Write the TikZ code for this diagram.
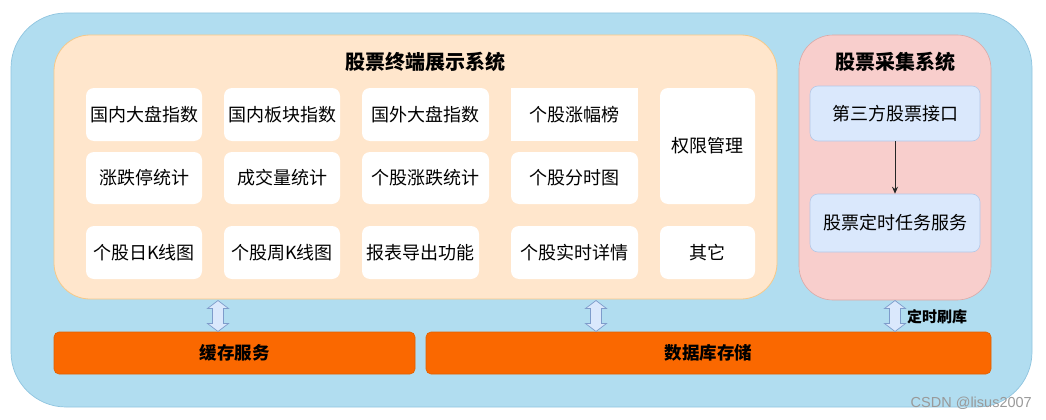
\documentclass[tikz,border=0pt]{standalone}
\usepackage{fontspec}
\setmainfont{Noto Sans CJK SC}
\newfontfamily\wmfont{Liberation Sans}
\usetikzlibrary{arrows.meta}
\definecolor{outerblue}{HTML}{B1DDF0}
\definecolor{outerline}{HTML}{8FC4DF}
\definecolor{panelorange}{HTML}{FFE6CC}
\definecolor{panelorangeline}{HTML}{F5C98A}
\definecolor{panelpink}{HTML}{F8CECC}
\definecolor{panelpinkline}{HTML}{D9A8A6}
\definecolor{ifblue}{HTML}{DAE8FC}
\definecolor{iflineblue}{HTML}{B4C8E6}
\definecolor{arrline}{HTML}{7E9CCB}
\definecolor{storeorange}{HTML}{FA6800}
\definecolor{storeline}{HTML}{E06000}
\tikzset{
  tile/.style={fill=white, rounded corners=8pt, inner sep=0pt, font=\fontsize{18}{20}\selectfont},
  sqtile/.style={fill=white, inner sep=0pt, font=\fontsize{18}{20}\selectfont},
  paneltitle/.style={font=\fontsize{20}{22}\selectfont\bfseries, inner sep=0pt},
  ifbox/.style={fill=ifblue, draw=iflineblue, line width=0.6pt, rounded corners=8pt, inner sep=0pt, font=\fontsize{18}{20}\selectfont},
  storebox/.style={fill=storeorange, draw=storeline, line width=0.6pt, rounded corners=5pt, inner sep=0pt, font=\fontsize{17.5}{19}\selectfont\bfseries},
  dblarr/.style={fill=ifblue, draw=arrline, line width=0.7pt, line join=miter},
}
% double block arrow: #1 = x, #2 = top y, #3 = bottom y
\newcommand\blockdblarrow[3]{%
  \draw[dblarr] (#1,#2) -- (#1+10.5,#2+8) -- (#1+5.5,#2+8) -- (#1+5.5,#3-8) -- (#1+10.5,#3-8)
    -- (#1,#3) -- (#1-10.5,#3-8) -- (#1-5.5,#3-8) -- (#1-5.5,#2+8) -- (#1-10.5,#2+8) -- cycle;}
\begin{document}
\begin{tikzpicture}[x=1pt,y=-1pt]
\useasboundingbox (0,0) rectangle (1046,420);
% outer container
\draw[fill=outerblue, draw=outerline, line width=0.7pt, rounded corners=55pt] (11,13) rectangle (1032,407);
% terminal panel
\draw[fill=panelorange, draw=panelorangeline, line width=0.8pt, rounded corners=36pt] (54,35) rectangle (777,299);
\node[paneltitle] (t1) at (425,62) {股票终端展示系统};
% collector panel
\draw[fill=panelpink, draw=panelpinkline, line width=0.6pt, rounded corners=34pt] (799,35) rectangle (991,300);
\node[paneltitle] (t2) at (895,62) {股票采集系统};
% tiles row 1
\node[tile, minimum width=116pt, minimum height=53pt] (a1) at (144,114.5) {国内大盘指数};
\node[tile, minimum width=116pt, minimum height=53pt] (a2) at (282,114.5) {国内板块指数};
\node[tile, minimum width=127pt, minimum height=53pt] (a3) at (425.5,114.5) {国外大盘指数};
\node[sqtile, minimum width=127pt, minimum height=53pt] (a4) at (574.5,114.5) {个股涨幅榜};
\node[tile, minimum width=95pt, minimum height=116pt] (a5) at (707.5,146) {权限管理};
% row 2
\node[tile, minimum width=116pt, minimum height=52pt] (b1) at (144,178) {涨跌停统计};
\node[tile, minimum width=116pt, minimum height=52pt] (b2) at (282,178) {成交量统计};
\node[tile, minimum width=127pt, minimum height=52pt] (b3) at (425.5,178) {个股涨跌统计};
\node[tile, minimum width=127pt, minimum height=52pt] (b4) at (574.5,178) {个股分时图};
% row 3
\node[tile, minimum width=116pt, minimum height=53pt] (c1) at (144,252.5) {个股日K线图};
\node[tile, minimum width=116pt, minimum height=53pt] (c2) at (282,252.5) {个股周K线图};
\node[tile, minimum width=117pt, minimum height=53pt] (c3) at (420.5,252.5) {报表导出功能};
\node[tile, minimum width=127pt, minimum height=53pt] (c4) at (574.5,252.5) {个股实时详情};
\node[tile, minimum width=95pt, minimum height=53pt] (c5) at (707.5,252.5) {其它};
% collector boxes
\node[ifbox, minimum width=170pt, minimum height=55pt] (iface) at (895,113.5) {第三方股票接口};
\node[ifbox, minimum width=170pt, minimum height=58pt] (task) at (895,223) {股票定时任务服务};
\draw[-{Stealth[length=7pt,width=6pt]}, line width=0.9pt, black!85] (iface.south) -- (task.north);
% storage
\node[storebox, minimum width=361pt, minimum height=42pt] (cache) at (234.5,353) {缓存服务};
\node[storebox, minimum width=565pt, minimum height=42pt] (db) at (708.5,353) {数据库存储};
% double arrows
\blockdblarrow{218}{300.5}{331.5}
\blockdblarrow{596}{300.5}{331.5}
\blockdblarrow{895}{300.5}{331.5}
\node[font=\fontsize{15}{16}\selectfont\bfseries, anchor=west, inner sep=0pt] (lbl) at (907,317) {定时刷库};
% watermark
\node[font=\wmfont\fontsize{14.5}{15}\selectfont, text=black!40, anchor=east, inner sep=0pt] (wm) at (1032,403) {CSDN @lisus2007};
\end{tikzpicture}
\end{document}
